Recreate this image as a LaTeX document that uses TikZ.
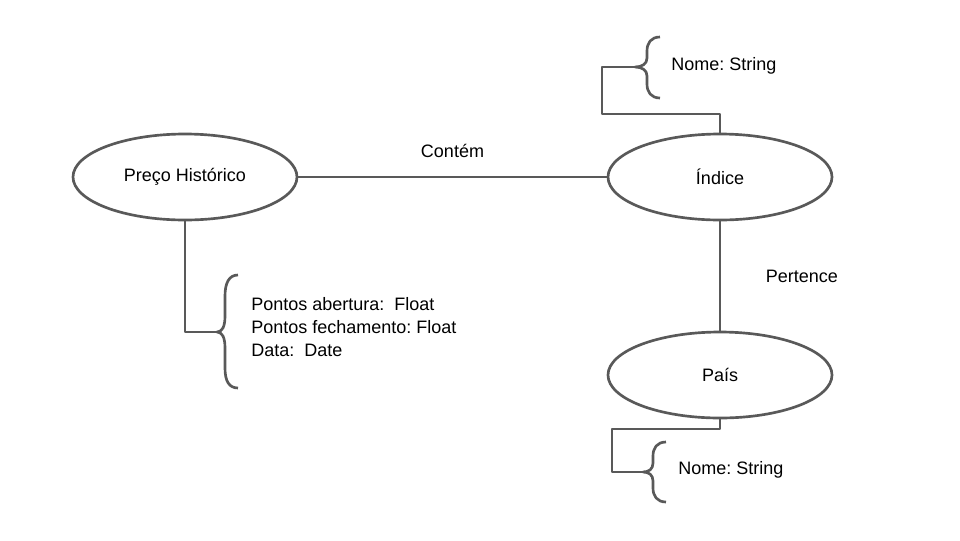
\documentclass[tikz,border=0pt]{standalone}
\usepackage{fontspec}
\setmainfont{Liberation Sans}
\usetikzlibrary{shapes.geometric}
\definecolor{linegray}{HTML}{595959}

\begin{document}
\frenchspacing
\begin{tikzpicture}[x=0.75pt, y=-0.75pt, line width=2pt, color=linegray, line join=round,
        font=\fontsize{13.5}{17.25}\selectfont, every node/.style={text=black},
        entity/.style={ellipse, draw, minimum width=168pt, minimum height=64.5pt},
        attrs/.style={anchor=west, inner sep=0pt, align=left}]
        \useasboundingbox (0,0) rectangle (960,540);
        \node[entity] (preco) at (185,177) {Preço Histórico};
        \node[entity, right of=preco, node distance=401.25pt] (indice) {Índice};
        \node[entity, below of=indice, node distance=148.5pt] (pais) {País};
        \draw (preco) -- node[above=10pt] (contem) {Contém} (indice);
        \draw (indice) -- node[right=30pt] (pertence) {Pertence} (pais);
        % brace tips and bends
        \coordinate (precoTip) at (217,332);
        \coordinate (indiceBend) at (602,114);
        \coordinate (indiceTip) at (635,67);
        \coordinate (paisBend) at (612,429);
        \coordinate (paisTip) at (643,472);
        \draw (preco.south) |- (precoTip);
        \draw (indice.north) |- (indiceBend) |- (indiceTip);
        \draw (pais.south) |- (paisBend) |- (paisTip);
        % braces
        \draw (238,275) .. controls (229,275) and (225,283) .. (225,296) -- (225,316)
            .. controls (225,327) and (222,332) .. (precoTip)
            .. controls (222,332) and (225,337) .. (225,348) -- (225,368)
            .. controls (225,381) and (229,388) .. (238,388);
        \draw (660,37) .. controls (651,37) and (647,43) .. (647,51) -- (647,58)
            .. controls (647,64) and (642,67) .. (indiceTip)
            .. controls (642,67) and (647,70) .. (647,76) -- (647,84)
            .. controls (647,92) and (651,98) .. (660,98);
        \draw (666,442) .. controls (657,442) and (653,448) .. (653,456) -- (653,463)
            .. controls (653,469) and (649,472) .. (paisTip)
            .. controls (649,472) and (653,475) .. (653,481) -- (653,488)
            .. controls (653,496) and (657,502) .. (666,502);
        % attributes
        \node[attrs] (precoAttrs) at (250,327) {Pontos abertura: \ Float\\Pontos fechamento: Float\\Data: \ Date};
        \node[attrs] (indiceAttrs) at (670,66) {Nome: String};
        \node[attrs] (paisAttrs) at (677,470) {Nome: String};
    \end{tikzpicture}
\end{document}
